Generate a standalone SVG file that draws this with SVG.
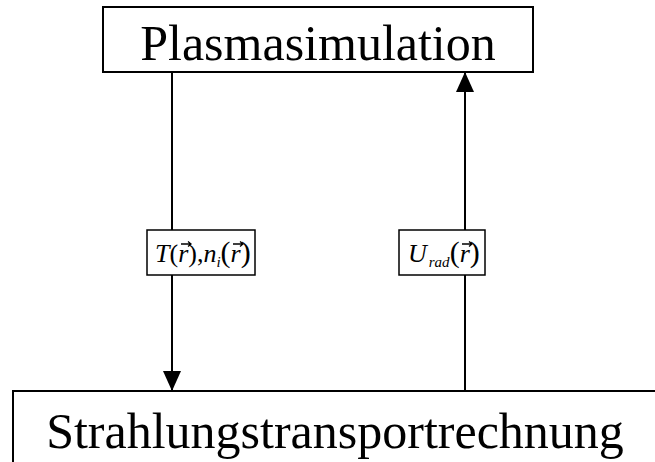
<svg xmlns="http://www.w3.org/2000/svg" width="655" height="462" viewBox="0 0 655 462">
<defs>
<style>
.box{fill:#fff;stroke:#000;stroke-width:2}
.lbl{fill:#fff;stroke:#000;stroke-width:1.5}
.big{font-family:"Liberation Serif","Times New Roman",serif;font-size:50px;fill:#000}
.m{font-family:"Liberation Serif","Times New Roman",serif;font-style:italic;font-size:26px;fill:#000}
.up{font-style:normal}
.sub{font-size:15px}
.par{font-style:normal;font-size:30px}
.line{stroke:#000;stroke-width:2;fill:none}
.vec{stroke:#000;stroke-width:1.3;fill:none}
</style>
<marker id="ah" viewBox="0 0 20 18" refX="19" refY="9" markerWidth="20" markerHeight="18" markerUnits="userSpaceOnUse" orient="auto">
<path d="M0,0 L20,9 L0,18 z" fill="#000"/>
</marker>
</defs>
<g id="connectors">
<line class="line" x1="172" y1="72" x2="172" y2="230"/>
<line class="line" x1="172" y1="275" x2="172" y2="390" marker-end="url(#ah)"/>
<line class="line" x1="465" y1="391" x2="465" y2="275"/>
<line class="line" x1="465" y1="230" x2="465" y2="73" marker-end="url(#ah)"/>
</g>
<g id="plasmasimulation">
<rect class="box" x="103" y="7" width="430" height="65"/>
<text class="big" x="318" y="60" text-anchor="middle">Plasmasimulation</text>
</g>
<g id="strahlungstransport">
<rect class="box" x="13" y="391" width="660" height="90"/>
<text class="big" x="335" y="448" text-anchor="middle">Strahlungstransportrechnung</text>
</g>
<g id="label-left">
<rect class="lbl" x="147" y="230" width="108" height="45"/>
<text class="m" x="155" y="262">T<tspan class="up">(</tspan>r<tspan class="up">),</tspan>n<tspan class="sub" dy="5">i</tspan><tspan class="par" dy="-5">(</tspan>r<tspan class="par">)</tspan></text>
<path class="vec" d="M181,244 h10 M188,241.5 l3,2.5 l-3,2.5"/>
<path class="vec" d="M233,244 h10 M240,241.5 l3,2.5 l-3,2.5"/>
</g>
<g id="label-right">
<rect class="lbl" x="399" y="230" width="86" height="45"/>
<text class="m" x="408" y="262">U<tspan class="sub" dx="2" dy="5">rad</tspan><tspan class="par" dy="-5">(</tspan>r<tspan class="par">)</tspan></text>
<path class="vec" d="M462,244 h10 M469,241.5 l3,2.5 l-3,2.5"/>
</g>
</svg>
